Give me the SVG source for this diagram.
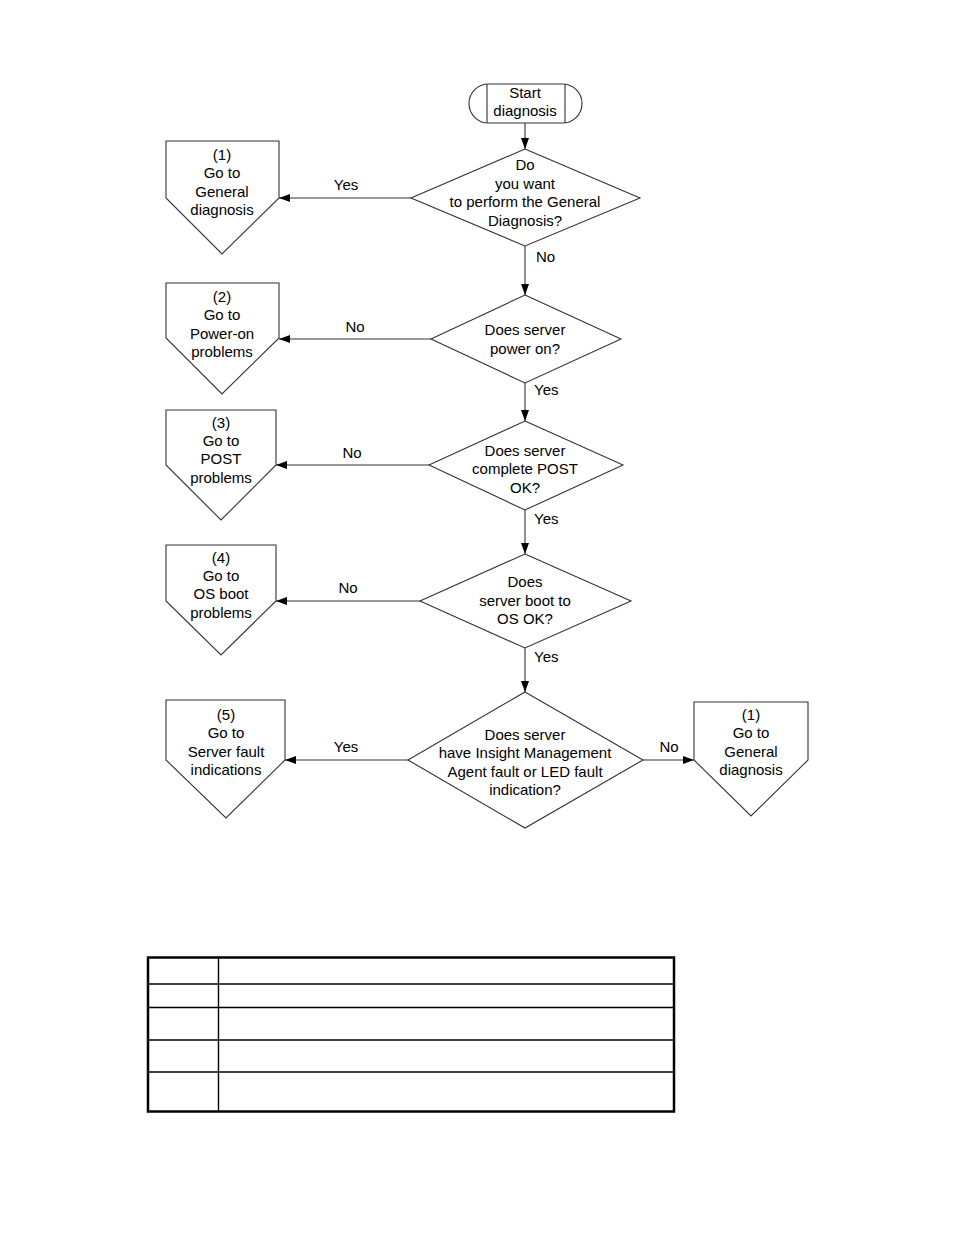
<svg xmlns="http://www.w3.org/2000/svg" width="954" height="1235" viewBox="0 0 954 1235">
<style>
.s{fill:#fff;stroke:#333;stroke-width:1.1}
.t{font-family:"Liberation Sans",Arial,sans-serif;font-size:15px;fill:#000;text-anchor:middle}
.l{font-family:"Liberation Sans",Arial,sans-serif;font-size:15px;fill:#000}
.c{fill:none;stroke:#333;stroke-width:1.1}
.tb{fill:none;stroke:#000;stroke-width:1.4}
.tbo{fill:none;stroke:#000;stroke-width:2.5}
</style>
<defs>
<marker id="ah" viewBox="0 0 11 8" refX="11" refY="4" markerWidth="11" markerHeight="8" markerUnits="userSpaceOnUse" orient="auto">
<path d="M0,0 L11,4 L0,8 Z" fill="#000"/>
</marker>
</defs>
<rect width="954" height="1235" fill="#fff"/>
<g id="connectors">
<line class="c" x1="525" y1="123" x2="525" y2="149" marker-end="url(#ah)"/>
<line class="c" x1="411" y1="198" x2="279" y2="198" marker-end="url(#ah)"/>
<line class="c" x1="525" y1="246" x2="525" y2="295" marker-end="url(#ah)"/>
<line class="c" x1="431" y1="339" x2="279" y2="339" marker-end="url(#ah)"/>
<line class="c" x1="525" y1="383" x2="525" y2="421" marker-end="url(#ah)"/>
<line class="c" x1="429" y1="465" x2="276" y2="465" marker-end="url(#ah)"/>
<line class="c" x1="525" y1="510" x2="525" y2="554" marker-end="url(#ah)"/>
<line class="c" x1="420" y1="601" x2="276" y2="601" marker-end="url(#ah)"/>
<line class="c" x1="525" y1="648" x2="525" y2="692" marker-end="url(#ah)"/>
<line class="c" x1="408" y1="760" x2="285" y2="760" marker-end="url(#ah)"/>
<line class="c" x1="643" y1="760" x2="694" y2="760" marker-end="url(#ah)"/>
<text class="t" x="346" y="190">Yes</text>
<text class="l" x="536" y="262">No</text>
<text class="t" x="355" y="332">No</text>
<text class="l" x="534" y="395">Yes</text>
<text class="t" x="352" y="458">No</text>
<text class="l" x="534" y="524">Yes</text>
<text class="t" x="348" y="593">No</text>
<text class="l" x="534" y="662">Yes</text>
<text class="t" x="346" y="752">Yes</text>
<text class="t" x="669" y="752">No</text>
</g>
<g id="start">
<rect class="s" x="469" y="84" width="113" height="39" rx="19.5" ry="19.5"/>
<line class="c" x1="487" y1="84" x2="487" y2="123"/>
<line class="c" x1="565" y1="84" x2="565" y2="123"/>
<text class="t" x="525" y="98">Start</text>
<text class="t" x="525" y="116">diagnosis</text>
</g>
<g id="d1">
<polygon class="s" points="525,149 640,198 525,246 411,198"/>
<text class="t" x="525" y="170">Do</text>
<text class="t" x="525" y="189">you want</text>
<text class="t" x="525" y="207">to perform the General</text>
<text class="t" x="525" y="226">Diagnosis?</text>
</g>
<g id="c1">
<polygon class="s" points="166,141 279,141 279,198 222,254 166,198"/>
<text class="t" x="222" y="160">(1)</text>
<text class="t" x="222" y="178">Go to</text>
<text class="t" x="222" y="197">General</text>
<text class="t" x="222" y="215">diagnosis</text>
</g>
<g id="d2">
<polygon class="s" points="525,295 621,339 525,383 431,339"/>
<text class="t" x="525" y="335">Does server</text>
<text class="t" x="525" y="354">power on?</text>
</g>
<g id="c2">
<polygon class="s" points="166,283 279,283 279,338 222,394 166,338"/>
<text class="t" x="222" y="302">(2)</text>
<text class="t" x="222" y="320">Go to</text>
<text class="t" x="222" y="339">Power-on</text>
<text class="t" x="222" y="357">problems</text>
</g>
<g id="d3">
<polygon class="s" points="525,421 623,465 525,510 429,465"/>
<text class="t" x="525" y="456">Does server</text>
<text class="t" x="525" y="474">complete POST</text>
<text class="t" x="525" y="493">OK?</text>
</g>
<g id="c3">
<polygon class="s" points="166,410 276,410 276,465 221,520 166,465"/>
<text class="t" x="221" y="428">(3)</text>
<text class="t" x="221" y="446">Go to</text>
<text class="t" x="221" y="464">POST</text>
<text class="t" x="221" y="483">problems</text>
</g>
<g id="d4">
<polygon class="s" points="525,554 631,601 525,648 420,601"/>
<text class="t" x="525" y="587">Does</text>
<text class="t" x="525" y="606">server boot to</text>
<text class="t" x="525" y="624">OS OK?</text>
</g>
<g id="c4">
<polygon class="s" points="166,545 276,545 276,601 221,655 166,601"/>
<text class="t" x="221" y="563">(4)</text>
<text class="t" x="221" y="581">Go to</text>
<text class="t" x="221" y="599">OS boot</text>
<text class="t" x="221" y="618">problems</text>
</g>
<g id="d5">
<polygon class="s" points="525,692 643,760 525,828 408,760"/>
<text class="t" x="525" y="740">Does server</text>
<text class="t" x="525" y="758">have Insight Management</text>
<text class="t" x="525" y="777">Agent fault or LED fault</text>
<text class="t" x="525" y="795">indication?</text>
</g>
<g id="c5">
<polygon class="s" points="166,700 285,700 285,760 226,818 166,760"/>
<text class="t" x="226" y="720">(5)</text>
<text class="t" x="226" y="738">Go to</text>
<text class="t" x="226" y="757">Server fault</text>
<text class="t" x="226" y="775">indications</text>
</g>
<g id="c6">
<polygon class="s" points="694,702 808,702 808,760 751,816 694,760"/>
<text class="t" x="751" y="720">(1)</text>
<text class="t" x="751" y="738">Go to</text>
<text class="t" x="751" y="757">General</text>
<text class="t" x="751" y="775">diagnosis</text>
</g>
<g id="table">
<line class="tb" x1="218.5" y1="957" x2="218.5" y2="1112"/>
<line class="tb" x1="148" y1="984" x2="674" y2="984"/>
<line class="tb" x1="148" y1="1007.5" x2="674" y2="1007.5"/>
<line class="tb" x1="148" y1="1040" x2="674" y2="1040"/>
<line class="tb" x1="148" y1="1072" x2="674" y2="1072"/>
<rect class="tbo" x="148" y="957.5" width="526" height="154"/>
</g>
</svg>
